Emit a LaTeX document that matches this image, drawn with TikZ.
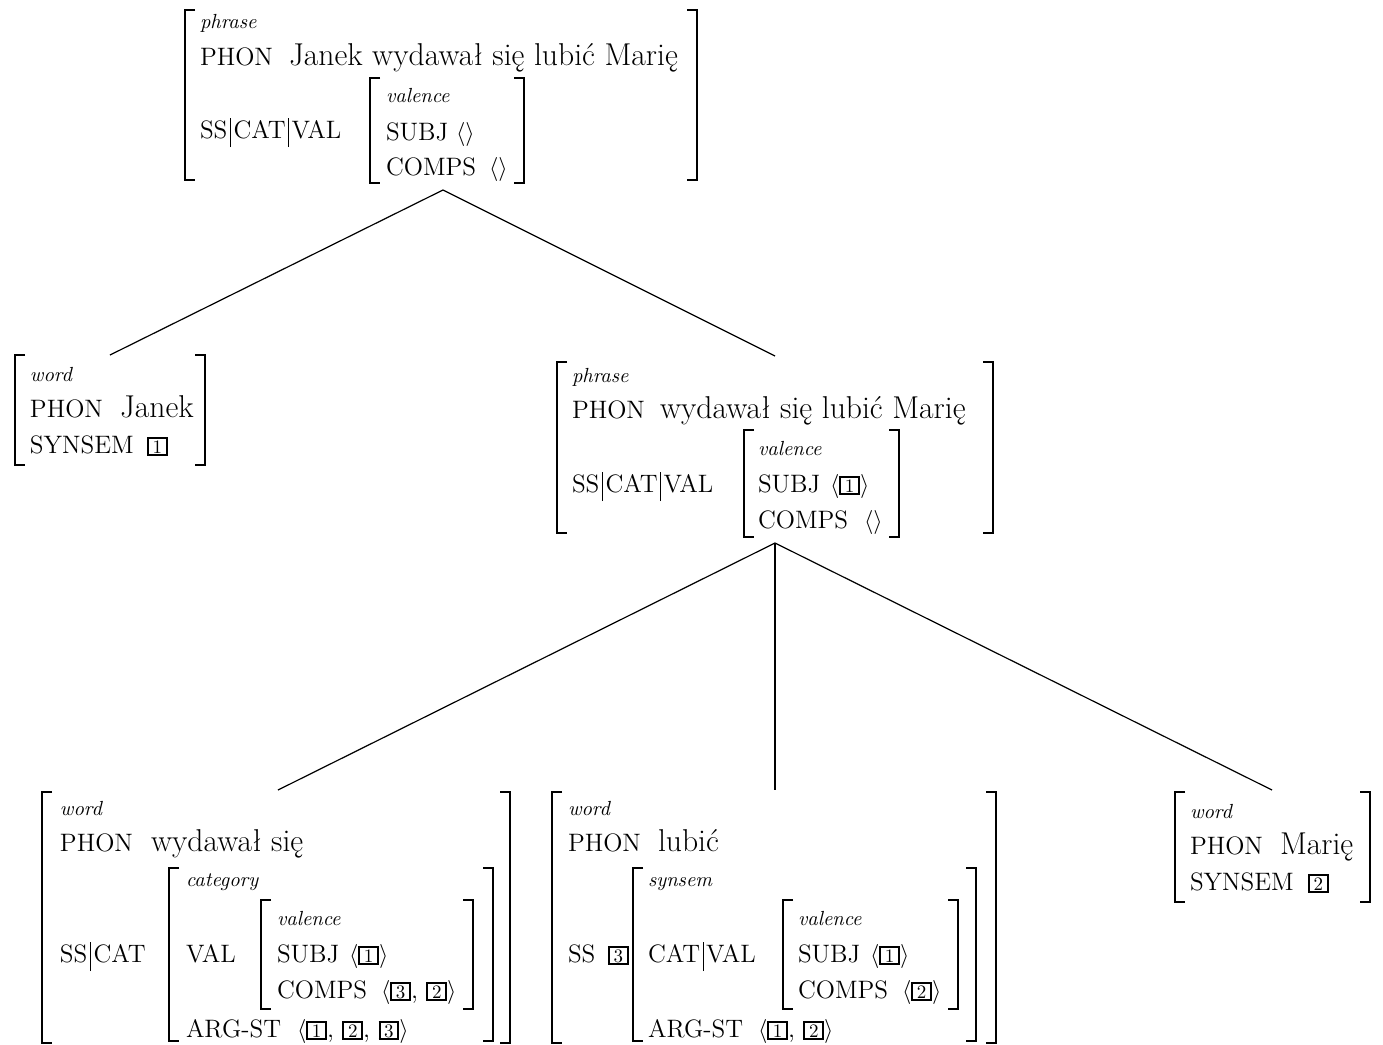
\documentclass[tikz,border=0pt]{standalone}
\usepackage{fontspec}
\newcommand{\tagbx}[1]{{\setlength{\fboxsep}{0pt}\setlength{\fboxrule}{1pt}\fbox{\makebox[8.4pt]{\rule[-0.6pt]{0pt}{7.6pt}\fontsize{9.5}{10}\selectfont #1}}}}
\newcommand{\vbarx}{\hspace{1.3pt}\rule[-4.5pt]{0.45pt}{14.5pt}\hspace{1.3pt}}
\newcommand{\avmbr}[4]{%
  \draw[br] (#1+10,#3) -- (#1,#3) -- (#1,#4) -- (#1+10,#4);
  \draw[br] (#2-10,#3) -- (#2,#3) -- (#2,#4) -- (#2-10,#4);}
\begin{document}
\begin{tikzpicture}[x=0.5pt,y=-0.5pt,
  every node/.style={inner sep=0pt,outer sep=0pt,anchor=base west},
  ft/.style={font=\fontsize{12.6}{14}\selectfont},
  ty/.style={font=\fontsize{10.2}{12}\selectfont\itshape},
  vl/.style={font=\fontsize{15.8}{18}\selectfont},
  ang/.style={font=\fontsize{12.8}{15}\selectfont},
  br/.style={line width=1.25pt,line cap=butt,line join=miter},
  edge/.style={line width=0.6pt}]
\useasboundingbox (0,0) rectangle (1383,1045);

% ---------- top AVM ----------
\avmbr{185}{697}{10}{180}
\node[ty] (t-type) at (200,28) {phrase};
\node[ft] (t-phon) at (200,65) {PHON};
\node[vl] (t-phonv) at (289,65) {Janek wydawał się lubić Marię};
\node[ft] (t-ss) at (200,138) {SS\vbarx CAT\vbarx VAL};
\avmbr{370}{524}{78}{183}
\node[ty] (t-val) at (386,102) {valence};
\node[ft] (t-subj) at (386,140) {SUBJ};
\node[ang] (t-subjv) at (456,140) {$\langle\rangle$};
\node[ft] (t-comps) at (386,175) {COMPS};
\node[ang] (t-compsv) at (489,175) {$\langle\rangle$};
\coordinate (t-bot) at (443,190);

% ---------- Janek ----------
\avmbr{15}{205}{355}{465}
\node[ty] (j-type) at (30,381) {word};
\node[ft] (j-phon) at (30,417) {PHON};
\node[vl] (j-phonv) at (120,417) {Janek};
\node[ft] (j-syn) at (30,453) {SYNSEM};
\node[ft] (j-synv) at (147,453) {\tagbx{1}};
\coordinate (j-top) at (110,355);

% ---------- middle phrase ----------
\avmbr{557}{993}{362}{533}
\node[ty] (m-type) at (572,382) {phrase};
\node[ft] (m-phon) at (572,418) {PHON};
\node[vl] (m-phonv) at (660,418) {wydawał się lubić Marię};
\node[ft] (m-ss) at (572,492) {SS\vbarx CAT\vbarx VAL};
\avmbr{744}{899}{430}{537}
\node[ty] (m-val) at (758,455) {valence};
\node[ft] (m-subj) at (758,492) {SUBJ};
\node[ang] (m-subjv) at (830,492) {$\langle$\tagbx{1}$\rangle$};
\node[ft] (m-comps) at (758,528) {COMPS};
\node[ang] (m-compsv) at (864,528) {$\langle\rangle$};
\coordinate (m-top) at (775,356);
\coordinate (m-bot) at (775,543);

% ---------- wydawał się ----------
\avmbr{42}{510}{792}{1043}
\node[ty] (w-type) at (60,815) {word};
\node[ft] (w-phon) at (60,851) {PHON};
\node[vl] (w-phonv) at (151,851) {wydawał się};
\node[ft] (w-ss) at (60,962) {SS\vbarx CAT};
\avmbr{169}{493}{868}{1041}
\node[ty] (w-cat) at (186,886) {category};
\node[ft] (w-valf) at (186,962) {VAL};
\avmbr{261}{473}{900}{1009}
\node[ty] (w-val) at (277,925) {valence};
\node[ft] (w-subj) at (277,962) {SUBJ};
\node[ang] (w-subjv) at (349,962) {$\langle$\tagbx{1}$\rangle$};
\node[ft] (w-comps) at (277,998) {COMPS};
\node[ang] (w-compsv) at (381,998) {$\langle$\tagbx{3}, \tagbx{2}$\rangle$};
\node[ft] (w-arg) at (186,1037) {ARG-ST};
\node[ang] (w-argv) at (297,1037) {$\langle$\tagbx{1}, \tagbx{2}, \tagbx{3}$\rangle$};
\coordinate (w-top) at (278,790);

% ---------- lubić ----------
\avmbr{552}{996}{792}{1043}
\node[ty] (l-type) at (568,815) {word};
\node[ft] (l-phon) at (568,851) {PHON};
\node[vl] (l-phonv) at (658,851) {lubić};
\node[ft] (l-ss) at (568,962) {SS};
\node[ft] (l-tag) at (608,962) {\tagbx{3}};
\avmbr{633}{976}{868}{1041}
\node[ty] (l-syn) at (648,886) {synsem};
\node[ft] (l-cat) at (648,962) {CAT\vbarx VAL};
\avmbr{783}{958}{900}{1009}
\node[ty] (l-val) at (798,925) {valence};
\node[ft] (l-subj) at (798,962) {SUBJ};
\node[ang] (l-subjv) at (870,962) {$\langle$\tagbx{1}$\rangle$};
\node[ft] (l-comps) at (798,998) {COMPS};
\node[ang] (l-compsv) at (902,998) {$\langle$\tagbx{2}$\rangle$};
\node[ft] (l-arg) at (648,1037) {ARG-ST};
\node[ang] (l-argv) at (758,1037) {$\langle$\tagbx{1}, \tagbx{2}$\rangle$};
\coordinate (l-top) at (775,790);

% ---------- Marię ----------
\avmbr{1175}{1370}{792}{902}
\node[ty] (r-type) at (1190,818) {word};
\node[ft] (r-phon) at (1190,854) {PHON};
\node[vl] (r-phonv) at (1280,854) {Marię};
\node[ft] (r-syn) at (1190,890) {SYNSEM};
\node[ft] (r-synv) at (1308,890) {\tagbx{2}};
\coordinate (r-top) at (1272,790);

% ---------- tree edges ----------
\draw[edge] (t-bot) -- (j-top);
\draw[edge] (t-bot) -- (m-top);
\draw[edge] (m-bot) -- (w-top);
\draw[edge] (m-bot) -- (l-top);
\draw[edge] (m-bot) -- (r-top);
\end{tikzpicture}
\end{document}
